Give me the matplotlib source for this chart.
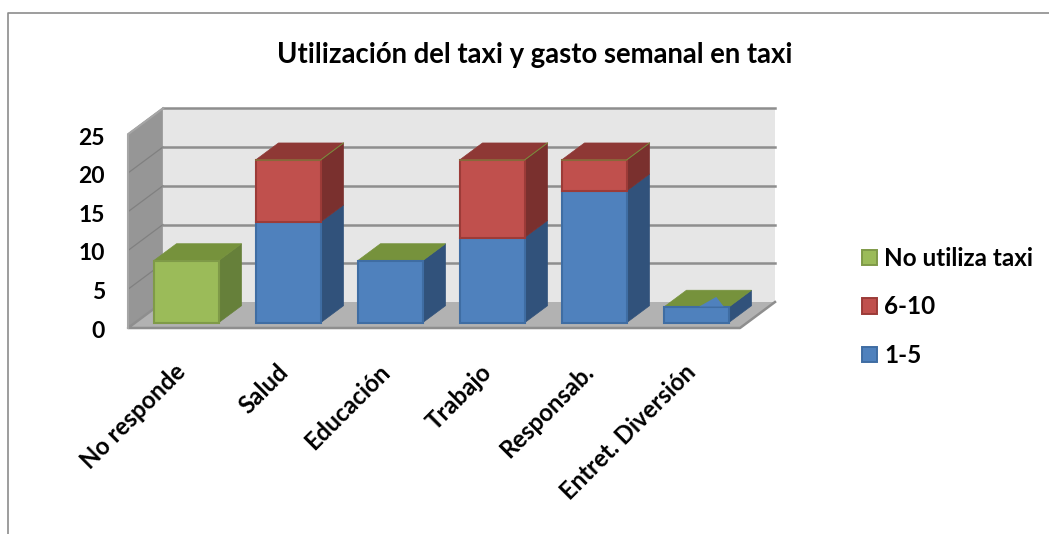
import matplotlib
matplotlib.use('Agg')
import matplotlib.pyplot as plt
from matplotlib.patches import Polygon, Patch
from matplotlib.lines import Line2D

plt.rcParams['font.family'] = ['Lato', 'DejaVu Sans']

title = 'Utilización del taxi y gasto semanal en taxi'
categories = ['No responde', 'Salud', 'Educación', 'Trabajo', 'Responsab.', 'Entret. Diversión']
no_utiliza = [8, 0, 0, 0, 0, 0]
s_6_10 = [0, 8, 0, 10, 4, 0]
s_1_5 = [0, 13, 8, 11, 17, 2]
yticks = [0, 5, 10, 15, 20, 25]
# which series shows on the top face of each column
top_series = ['green', 'red', 'green', 'red', 'red', 'green']

colors = {
    'green': ('#9BBB59', '#66803A', '#76923C', '#7F9A48'),
    'red': ('#C0504D', '#7A302E', '#8E3835', '#9C3B38'),
    'blue': ('#4F81BD', '#31527B', '#31527B', '#3F6DA3'),
}

W, H = 1049, 534
PX_X = 102.0   # pixels per category
PX_Y = 7.75    # pixels per unit
X0, Y0 = 128, 328
DX = 35 / PX_X   # full depth of the box, data units
DY = 26 / PX_Y

fig = plt.figure(figsize=(W / 100, H / 100), dpi=100)
ax = fig.add_axes([0, 0, 1, 1])
ax.set_xlim(-X0 / PX_X, (W - X0) / PX_X)
ax.set_ylim((Y0 - H) / PX_Y, Y0 / PX_Y)
ax.axis('off')


def pt(x, y, d):
    return (x + DX * d, y + DY * d)


n = len(categories)
grey = '#8E8E8E'

# walls and floor
ax.add_patch(Polygon([pt(0, 0, 0), pt(0, 0, 1), pt(0, 25, 1), pt(0, 25, 0)], fc='#969696', ec='#A6A6A6', lw=1, zorder=0))
ax.add_patch(Polygon([pt(0, 0, 1), pt(n, 0, 1), pt(n, 25, 1), pt(0, 25, 1)], fc='#E6E6E6', ec='none', zorder=0))
ax.add_patch(Polygon([pt(0, 0, 0), pt(n, 0, 0), pt(n, 0, 1), pt(0, 0, 1)], fc='#B2B2B2', ec='none', zorder=0.2))
for v in yticks[1:]:
    ax.plot([pt(0, v, 0)[0], pt(0, v, 1)[0]], [pt(0, v, 0)[1], pt(0, v, 1)[1]], color='#808080', lw=0.9, zorder=0.1)
    ax.plot([pt(0, v, 1)[0], pt(n, v, 1)[0]], [pt(0, v, 1)[1], pt(n, v, 1)[1]], color=grey, lw=1.8, zorder=0.1)
ax.plot([pt(0, 0, 1)[0], pt(0, 0, 0)[0], pt(n, 0, 0)[0], pt(n, 0, 1)[0]],
        [pt(0, 0, 1)[1], pt(0, 0, 0)[1], pt(n, 0, 0)[1], pt(n, 0, 1)[1]], color=grey, lw=1.8, zorder=0.3)
ax.plot([pt(0, 0, 0)[0], pt(0, 25, 0)[0], pt(0, 25, 1)[0]],
        [pt(0, 0, 0)[1], pt(0, 25, 0)[1], pt(0, 25, 1)[1]], color='#A6A6A6', lw=1.5, zorder=0.3)

# columns
bw = 65 / PX_X
d0, d1 = 0.2, 0.857
for i in range(n):
    x0 = i + 0.5 - bw / 2
    x1 = x0 + bw
    base = 0
    for name, vals in (('blue', s_1_5), ('red', s_6_10), ('green', no_utiliza)):
        v = vals[i]
        if v == 0:
            continue
        front, side, top, edge = colors[name]
        y0, y1 = base, base + v
        ax.add_patch(Polygon([pt(x1, y0, d0), pt(x1, y0, d1), pt(x1, y1, d1), pt(x1, y1, d0)],
                             fc=side, ec=side, lw=0.5, zorder=1))
        ax.add_patch(Polygon([pt(x0, y0, d0), pt(x1, y0, d0), pt(x1, y1, d0), pt(x0, y1, d0)],
                             fc=front, ec=edge, lw=1.5, zorder=3))
        base = y1
    front, side, top, edge = colors[top_series[i]]
    ax.add_patch(Polygon([pt(x0, base, d0), pt(x1, base, d0), pt(x1, base, d1), pt(x0, base, d1)],
                         fc=top, ec=top, lw=0.5, zorder=2))
    # thin green line of the empty top series
    if top_series[i] == 'red':
        ax.plot([pt(x0, base, d0)[0], pt(x1, base, d0)[0], pt(x1, base, d1)[0]],
                [pt(x0, base, d0)[1], pt(x1, base, d0)[1], pt(x1, base, d1)[1]],
                color='#76923C', lw=0.7, zorder=4)
    # small blue sliver showing through the last column's top
    if categories[i].startswith('Entret'):
        ax.add_patch(Polygon([pt(x0 + 0.34, base, d0 + 0.03), pt(x0 + 0.58, base, d0 + 0.03),
                              pt(x0 + 0.38, base, d0 + 0.4)], fc='#4F81BD', ec='none', zorder=4))

# axis labels
for v in yticks:
    ax.annotate(str(v), (0, v * 0.995), xytext=(-23, -3), textcoords='offset pixels', ha='right', va='center',
                fontsize=16.5, fontweight='bold', color='black')
for i, c in enumerate(categories):
    ax.annotate(c, (i + 0.5, 0), xytext=(-5, -32), textcoords='offset pixels', ha='right', va='top',
                rotation=45, rotation_mode='anchor', fontsize=17.2, fontweight='bold', color='black')

ax.text(534.5 / W, 1 - 55 / H, title, transform=ax.transAxes, ha='center', va='center',
        fontsize=19.8, fontweight='bold', color='black')

handles = [Patch(fc=colors[k][0], ec=colors[k][3], lw=1.4) for k in ('green', 'red', 'blue')]
ax.legend(handles, ['No utiliza taxi', '6-10', '1-5'], loc='center left',
          bbox_to_anchor=(862 / W, 1 - 307 / H), frameon=False, prop={'size': 17.5, 'weight': 'bold'},
          handlelength=0.62, handleheight=0.62, handletextpad=0.3, labelspacing=1.05,
          borderpad=0, borderaxespad=0)

# outer frame, only left and top are inside the crop
fig.add_artist(Line2D([7.5 / W, 7.5 / W, 1], [0, 1 - 12.5 / H, 1 - 12.5 / H], color='#8C8C8C', lw=1.2))

fig.savefig('out.png', dpi=100)
